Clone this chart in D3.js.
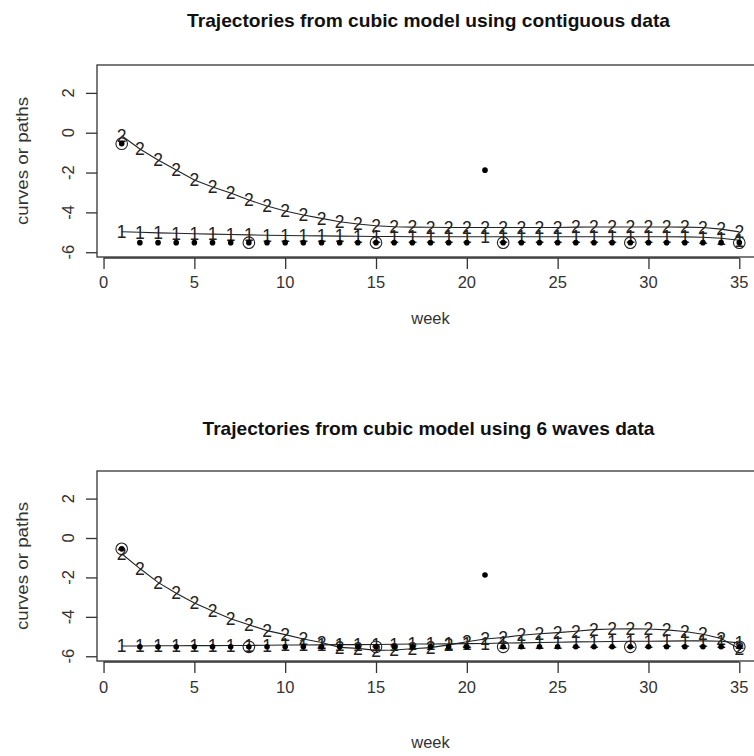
<!DOCTYPE html>
<html>
<head>
<meta charset="utf-8">
<script src="https://cdn.jsdelivr.net/npm/d3@7"></script>
<style>
  body { margin: 0; background: #fff; }
  svg { display: block; }
  text { font-family: "Liberation Sans", Arial, sans-serif; }
  .title { font-weight: bold; font-size: 18.5px; fill: #111; }
  .tick-label, .axis-label { font-size: 16.5px; fill: #333; }
  .curve-line { fill: none; stroke: #222; stroke-width: 1.1; }
  .curve-char { font-size: 17.5px; fill: #222; }
  .box, .axis-line { fill: none; stroke: #333; stroke-width: 1.3; }
</style>
</head>
<body>
<div id="wrapper"></div>
<script>
// data

const weeks = d3.range(1, 36)

// observed values (same series in both panels)
const observed = [
  -0.55, -5.52, -5.52, -5.52, -5.52, -5.52, -5.52, -5.52, -5.52, -5.52,
  -5.52, -5.52, -5.52, -5.52, -5.52, -5.52, -5.52, -5.52, -5.52, -5.52,
  -1.88, -5.52, -5.52, -5.52, -5.52, -5.52, -5.52, -5.52, -5.52, -5.52,
  -5.52, -5.52, -5.52, -5.52, -5.52,
]
// weeks kept in the 6 waves data (circled)
const waveWeeks = [1, 8, 15, 22, 29, 35]

const contiguousCurve1 = [
  -4.97, -5.00, -5.03, -5.05, -5.07, -5.09, -5.11, -5.13, -5.15, -5.16,
  -5.17, -5.18, -5.19, -5.20, -5.21, -5.21, -5.22, -5.22, -5.22, -5.22,
  -5.22, -5.22, -5.22, -5.22, -5.22, -5.22, -5.22, -5.22, -5.22, -5.22,
  -5.22, -5.23, -5.25, -5.30, -5.40,
]
const contiguousCurve2 = [
  -0.15, -0.82, -1.37, -1.87, -2.37, -2.73, -3.03, -3.38, -3.68, -3.93,
  -4.13, -4.30, -4.47, -4.58, -4.67, -4.72, -4.74, -4.75, -4.76, -4.76,
  -4.76, -4.76, -4.76, -4.76, -4.76, -4.74, -4.73, -4.73, -4.73, -4.73,
  -4.73, -4.74, -4.76, -4.84, -4.98,
]

const wavesCurve1 = [
  -5.48, -5.48, -5.47, -5.47, -5.46, -5.46, -5.45, -5.45, -5.44, -5.43,
  -5.43, -5.42, -5.41, -5.41, -5.40, -5.39, -5.38, -5.38, -5.37, -5.36,
  -5.35, -5.33, -5.32, -5.30, -5.29, -5.27, -5.26, -5.25, -5.24, -5.24,
  -5.23, -5.22, -5.22, -5.24, -5.32,
]
const wavesCurve2 = [
  -0.80, -1.55, -2.25, -2.80, -3.30, -3.70, -4.10, -4.40, -4.70, -4.90,
  -5.12, -5.30, -5.55, -5.60, -5.70, -5.68, -5.62, -5.56, -5.42, -5.26,
  -5.12, -5.05, -4.93, -4.86, -4.80, -4.73, -4.65, -4.62, -4.60, -4.62,
  -4.66, -4.74, -4.88, -5.10, -5.62,
]

const xTicks = [0, 5, 10, 15, 20, 25, 30, 35]
const yTicks = [-6, -4, -2, 0, 2]

const titles = [
  "Trajectories from cubic model using contiguous data",
  "Trajectories from cubic model using 6 waves data",
]

// layout

const dimensions = { width: 754, height: 756, left: 97, right: 764 }

const panels = [
  { title: titles[0], titleWidth: 483, curves: [contiguousCurve1, contiguousCurve2],
    top: 65, bottom: 257, titleY: 21, tickLabelY: 282, weekY: 318 },
  { title: titles[1], titleWidth: 452, curves: [wavesCurve1, wavesCurve2],
    top: 471, bottom: 661, titleY: 429, tickLabelY: 687, weekY: 742 },
]

const svg = d3.select("#wrapper")
  .append("svg")
    .attr("width", dimensions.width)
    .attr("height", dimensions.height)

const xScale = d3.scaleLinear()
  .domain([-0.36, 36.36])
  .range([dimensions.left, dimensions.right])

const drawPanel = (panel) => {
  const yScale = d3.scaleLinear()
    .domain([-6.24, 3.40])
    .range([panel.bottom, panel.top])

  const g = svg.append("g")
  const midX = (dimensions.left + dimensions.right) / 2

  g.append("text")
    .attr("class", "title")
    .attr("x", midX - 2)
    .attr("y", panel.titleY)
    .attr("dy", "0.35em")
    .attr("text-anchor", "middle")
    .attr("textLength", panel.titleWidth)
    .attr("lengthAdjust", "spacingAndGlyphs")
    .text(panel.title)

  // box
  g.append("rect")
    .attr("class", "box")
    .attr("x", dimensions.left)
    .attr("y", panel.top)
    .attr("width", dimensions.right - dimensions.left)
    .attr("height", panel.bottom - panel.top)

  // x axis
  const xAxis = g.append("g")
    .attr("transform", `translate(0, ${panel.bottom + 1})`)
    .call(d3.axisBottom(xScale).tickValues(xTicks).tickSize(11).tickSizeOuter(0).tickFormat(d3.format("d")))
  xAxis.select(".domain")
    .attr("d", `M${xScale(0)},0H${xScale(35)}`)
    .attr("stroke", "#333")
    .attr("stroke-width", 1.3)
  xAxis.selectAll(".tick line").attr("stroke", "#333").attr("stroke-width", 1.3)
  xAxis.selectAll(".tick text").remove()
  g.selectAll(".x-label")
    .data(xTicks)
    .join("text")
      .attr("class", "tick-label")
      .attr("x", d => xScale(d))
      .attr("y", panel.tickLabelY)
      .attr("dy", "0.35em")
      .attr("text-anchor", "middle")
      .text(d => d)

  // y axis
  const yAxis = g.append("g")
    .attr("transform", `translate(${dimensions.left}, 0)`)
    .call(d3.axisLeft(yScale).tickValues(yTicks).tickSize(11).tickSizeOuter(0))
  yAxis.select(".domain").remove()
  yAxis.selectAll(".tick line").attr("stroke", "#333").attr("stroke-width", 1.3)
  yAxis.selectAll(".tick text").remove()
  g.selectAll(".y-label")
    .data(yTicks)
    .join("text")
      .attr("class", "tick-label")
      .attr("transform", d => `translate(68, ${yScale(d)}) rotate(-90)`)
      .attr("dy", "0.35em")
      .attr("text-anchor", "middle")
      .text(d => d)

  g.append("text")
    .attr("class", "axis-label")
    .attr("transform", `translate(22, ${(panel.top + panel.bottom) / 2}) rotate(-90)`)
    .attr("dy", "0.35em")
    .attr("text-anchor", "middle")
    .attr("textLength", 128)
    .attr("lengthAdjust", "spacingAndGlyphs")
    .text("curves or paths")

  g.append("text")
    .attr("class", "axis-label")
    .attr("x", midX)
    .attr("y", panel.weekY)
    .attr("dy", "0.35em")
    .attr("text-anchor", "middle")
    .text("week")

  // curves, each point marked by its number
  const lineGenerator = d3.line()
    .x((d, i) => xScale(weeks[i]))
    .y(d => yScale(d))

  panel.curves.forEach((values, c) => {
    g.append("path")
      .datum(values)
      .attr("class", "curve-line")
      .attr("d", lineGenerator)
    g.selectAll(`.char-${c}`)
      .data(values)
      .join("text")
        .attr("class", `curve-char char-${c}`)
        .attr("x", (d, i) => xScale(weeks[i]))
        .attr("y", d => yScale(d))
        .attr("dy", "0.36em")
        .attr("text-anchor", "middle")
        .text(c + 1)
  })

  // observed points
  g.selectAll(".obs")
    .data(observed)
    .join("circle")
      .attr("class", "obs")
      .attr("cx", (d, i) => xScale(weeks[i]))
      .attr("cy", d => yScale(d))
      .attr("r", 2.8)
      .attr("fill", "#000")

  g.selectAll(".wave")
    .data(waveWeeks)
    .join("circle")
      .attr("class", "wave")
      .attr("cx", d => xScale(d))
      .attr("cy", d => yScale(observed[d - 1]))
      .attr("r", 5.8)
      .attr("fill", "none")
      .attr("stroke", "#222")
      .attr("stroke-width", 1.1)
}

panels.forEach(drawPanel)
</script>
</body>
</html>
